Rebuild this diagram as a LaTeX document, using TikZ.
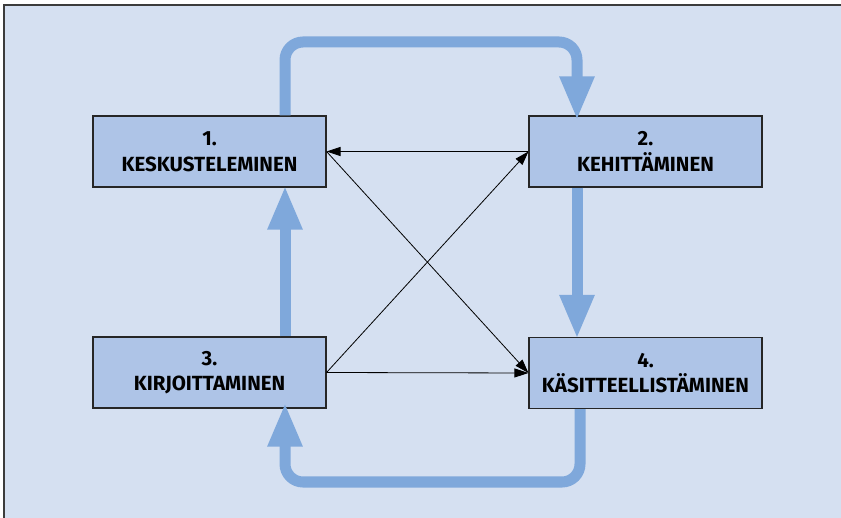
\documentclass[tikz,border=0pt]{standalone}
\usepackage{fontspec}
\setmainfont{Fira Sans}
\usetikzlibrary{arrows.meta}
\definecolor{panel}{HTML}{D5E0F1}
\definecolor{boxfill}{HTML}{AEC4E7}
\definecolor{flow}{HTML}{7FA8DB}
\definecolor{frame}{HTML}{3C3C3C}
\begin{document}
\begin{tikzpicture}[x=1pt,y=-1pt,
  stagebox/.style={draw=black!85,line width=1.1pt,fill=boxfill,
    minimum width=233pt,minimum height=71pt,inner sep=0pt,align=center,
    font=\fontsize{20.5}{25.5}\selectfont\bfseries},
  cycle/.style={draw=flow,line width=11pt,rounded corners=18pt,
    -{Triangle[length=44pt,width=32pt]}},
  link/.style={draw=black,line width=0.8pt,-{Triangle[length=14pt,width=9pt]}}]
  \useasboundingbox (0,0) rectangle (841,518);
  % panel with its frame on the top and left sides
  \fill[panel] (4,5) rectangle (841,518);
  \draw[frame,line width=2pt] (4,518) -- (4,5) -- (841,5);

  % the four stages
  \node[stagebox] (b1) at (209.5,151.5) {1.\\KESKUSTELEMINEN};
  \node[stagebox] (b2) at (645.5,151.5) {2.\\KEHITTÄMINEN};
  \node[stagebox] (b3) at (209.5,372.5) {3.\\KIRJOITTAMINEN};
  \node[stagebox] (b4) at (645.5,373) {4.\\KÄSITTEELLISTÄMINEN};

  % outer cycle 1 -> 2 -> 4 -> 3 -> 1
  \coordinate (c12a) at (285,42);
  \coordinate (c12b) at (577,42);
  \coordinate (c43a) at (580,482);
  \coordinate (c43b) at (285,482);
  \draw[cycle] ([xshift=75.5pt]b1.north) -- (c12a) -- (c12b)
    -- ([xshift=-68.5pt,yshift=-5pt]b2.north);
  \draw[cycle] ([xshift=-68.5pt]b2.south) -- ([xshift=-68.5pt,yshift=-2pt]b4.north);
  \draw[cycle] ([xshift=-65.5pt]b4.south) -- (c43a) -- (c43b)
    -- ([xshift=75.5pt,yshift=6pt]b3.south);
  \draw[cycle] ([xshift=75.5pt]b3.north) -- ([xshift=75.5pt,yshift=2pt]b1.south);

  % cross links between the stages
  \draw[link] (b2.west) -- (b1.east);
  \draw[link] (b3.east) -- (b4.west);
  \draw[link] (b1.east) -- (b4.west);
  \draw[link] (b3.east) -- (b2.west);
\end{tikzpicture}
\end{document}
